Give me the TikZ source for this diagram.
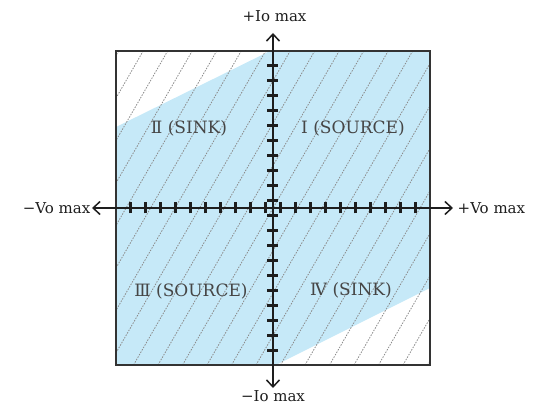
\documentclass[tikz,border=0pt]{standalone}
\usepackage{fontspec}
\setmainfont{DejaVu Serif}
\usepackage{xcolor}
\usetikzlibrary{arrows.meta,positioning}
\definecolor{qfill}{RGB}{198,233,248}
\definecolor{qtext}{RGB}{70,70,70}
\definecolor{axcol}{RGB}{30,30,30}
\begin{document}
\begin{tikzpicture}[x=1pt,y=1pt,
  ql/.style={font=\fontsize{17}{20}\selectfont,text=qtext,inner sep=0pt},
  al/.style={font=\fontsize{15}{18}\selectfont,text=axcol,inner sep=1.5pt},
  ax/.style={axcol,line width=2pt,-{Straight Barb[length=7pt,width=13pt,line width=1.5pt]}},
  tk/.style={axcol,line width=2.2pt},
  hatch/.style={gray!90,line width=0.8pt,dash pattern=on 1.5pt off 1.3pt}]
\useasboundingbox (-273,-196) rectangle (268,208);
% shaded operating area
\fill[qfill] (-157,-157) -- (3,-157) -- (157,-80) -- (157,157) -- (-3,157) -- (-157,81) -- cycle;
\begin{scope}
  \clip (-157,-157) rectangle (157,157);
  \foreach \k in {-15,...,7}
    \draw[hatch] ({7.5+24.5*\k},-157) -- ++(210,364);
\end{scope}
\draw[black!80,line width=1.5pt] (-157,-157) rectangle (157,157);
% quadrant labels
\node[ql] (q1) at (80,80)   {Ⅰ (SOURCE)};
\node[ql] (q2) at (-84,80)  {Ⅱ (SINK)};
\node[ql] (q3) at (-82,-83) {Ⅲ (SOURCE)};
\node[ql] (q4) at (78,-82)  {Ⅳ (SINK)};
% axes
\coordinate (o) at (0,0);
\coordinate (top) at (0,175);
\coordinate (bot) at (0,-180);
\coordinate (lft) at (-181,0);
\coordinate (rgt) at (180,0);
\node[al,anchor=base] (ip) at (1.5,186) {+Io max};
\node[al,anchor=base] (im) at (0,-193.5) {−Io max};
\node[al,anchor=east] (vm) at (lft) {−Vo max};
\node[al,anchor=west] (vp) at ([xshift=3pt]rgt) {+Vo max};
\draw[ax] (o) -- (top);
\draw[ax] (o) -- (bot);
\draw[ax] (o) -- (lft);
\draw[ax] (o) -- (rgt);
\foreach \i in {0,...,9} {
  \draw[tk] ({7.5+15*\i},-5.5) -- ++(0,11);
  \draw[tk] ({-7.5-15*\i},-5.5) -- ++(0,11);
  \draw[tk] (-5.5,{7.5+15*\i}) -- ++(11,0);
  \draw[tk] (-5.5,{-7.5-15*\i}) -- ++(11,0);
}
\end{tikzpicture}
\end{document}
